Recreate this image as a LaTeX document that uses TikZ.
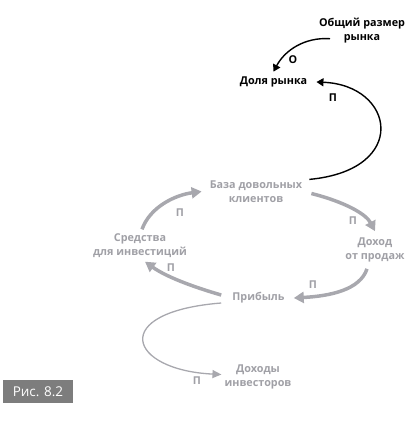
\documentclass[tikz,border=0pt]{standalone}
\usepackage{fontspec}
\setmainfont{Open Sans}
\usetikzlibrary{arrows.meta}
\definecolor{txtgray}{RGB}{160,160,166}
\definecolor{arrgray}{RGB}{168,168,174}
\definecolor{boxgray}{RGB}{125,125,125}
\tikzset{
  lbl/.style={font=\bfseries\fontsize{10.8}{14}\selectfont, align=center, inner sep=0pt, text=txtgray},
  blk/.style={lbl, text=black},
  pl/.style={font=\bfseries\fontsize{10.8}{12}\selectfont, inner sep=0pt},
  garrow/.style={draw=arrgray, line width=3.5pt, -{Triangle[length=10pt,width=11pt]}},
  barrow/.style={draw=black, line width=1.4pt, -{Triangle[length=7pt,width=8pt]}},
  tarrow/.style={draw=arrgray, line width=1.3pt, -{Triangle[length=9pt,width=8pt]}}
}
\begin{document}
\begin{tikzpicture}[x=1pt,y=-1pt]
\useasboundingbox (0,0) rectangle (413,424);
\node[blk] (obsh) at (362,31) {Общий размер\\рынка};
\node[blk] (dolya) at (273.5,82) {Доля рынка};
\node[lbl] (baza) at (256,191.5) {База довольных\\клиентов};
\node[lbl] (dohod) at (375,249.5) {Доход\\от продаж};
\node[lbl] (prib) at (258.5,298) {Прибыль};
\node[lbl] (sred) at (140,245.5) {Средства\\для инвестиций};
\node[lbl] (inv) at (258,376.5) {Доходы\\инвесторов};

\node[pl, text=black] (p1) at (293,60) {О};
\node[pl, text=black] (p2) at (333,98) {П};
\node[pl, text=txtgray] (p3) at (353,221) {П};
\node[pl, text=txtgray] (p4) at (313,285) {П};
\node[pl, text=txtgray] (p5) at (171,268) {П};
\node[pl, text=txtgray] (p6) at (180,213) {П};
\node[pl, text=txtgray] (p7) at (197,381) {П};

\draw[barrow] ([xshift=-32pt,yshift=5pt]obsh.south) .. controls (305,37) and (285,50) .. ([yshift=5pt]dolya.north);
\draw[barrow] ([xshift=7pt,yshift=1pt]baza.north east) .. controls (410,170) and (395,85) .. ([xshift=9pt]dolya.east);
\draw[garrow] ([xshift=9pt,yshift=-2pt]baza.east) .. controls (345,202) and (366,214) .. ([yshift=6pt]dohod.north);
\draw[garrow] ([xshift=-8pt,yshift=-7pt]dohod.south) .. controls (360,290) and (330,296) .. ([xshift=9pt]prib.east);
\draw[garrow] ([xshift=-11pt,yshift=3pt]prib.west) .. controls (190,286) and (165,276) .. ([xshift=5pt,yshift=-4pt]sred.south);
\draw[garrow] ([xshift=2pt,yshift=4pt]sred.north) .. controls (150,207) and (175,195) .. ([xshift=-8pt]baza.west);
\draw[tarrow] ([xshift=-11pt,yshift=-5pt]prib.west) .. controls (108,312) and (128,370) .. ([xshift=-3pt,yshift=2pt]inv.west);

\node[fill=boxgray, text=white, minimum width=70pt, minimum height=23pt, inner sep=0pt, font=\fontsize{13.5}{14}\selectfont] (fig) at (38,391.5) {Рис. 8.2};
\end{tikzpicture}
\end{document}
